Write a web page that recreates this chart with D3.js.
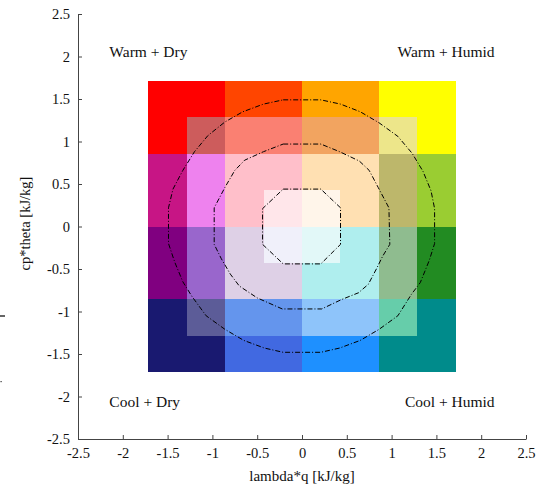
<!DOCTYPE html>
<html>
<head>
<meta charset="utf-8">
<script src="https://cdn.jsdelivr.net/npm/d3@7"></script>
<style>
  html, body { margin: 0; padding: 0; background: #fff; }
  svg { display: block; }
  text { font-family: "Liberation Serif", "Times New Roman", serif; fill: #111; }
  .axis path, .axis line { stroke: #444; stroke-width: 1; }
  .axis text { font-size: 14.5px; }
  .contour { fill: none; stroke: #000; stroke-width: 1; stroke-dasharray: 5,2,1,2; }
</style>
</head>
<body>
<div id="chart"></div>
<script>
// --- data ---
const tickValues = [-2.5, -2, -1.5, -1, -0.5, 0, 0.5, 1, 1.5, 2, 2.5];
const tickLabels = ['-2.5', '-2', '-1.5', '-1', '-0.5', '0', '0.5', '1', '1.5', '2', '2.5'];

// cell edges (kJ/kg), same on both axes
const binEdges = [-1.714, -1.286, -0.857, -0.429, 0, 0.429, 0.857, 1.286, 1.714];

// cell colours, rows from top (warm) to bottom (cool), columns dry -> humid
const cellColors = [
  ['#ff0000', '#ff0000', '#ff4500', '#ff4500', '#ffa500', '#ffa500', '#ffff00', '#ffff00'],
  ['#ff0000', '#cd5c5c', '#fa8072', '#fa8072', '#f2a460', '#f2a460', '#ede68a', '#ffff00'],
  ['#c71585', '#ee82ee', '#ffbfca', '#ffbfca', '#ffe0b2', '#ffe0b2', '#bdb76b', '#9acd32'],
  ['#c71585', '#ee82ee', '#ffbfca', '#ffe6ea', '#fff5ea', '#ffe0b2', '#bdb76b', '#9acd32'],
  ['#800080', '#9966cc', '#ded0e6', '#f0f0fa', '#e2f8f8', '#afeeee', '#8fbc8f', '#228b22'],
  ['#800080', '#9966cc', '#ded0e6', '#ded0e6', '#afeeee', '#afeeee', '#8fbc8f', '#228b22'],
  ['#191970', '#5c5c98', '#6495ed', '#6495ed', '#8ec4fa', '#8ec4fa', '#66cdaa', '#008b8b'],
  ['#191970', '#191970', '#4169e1', '#4169e1', '#1e90ff', '#1e90ff', '#008b8b', '#008b8b']
];

// dash-dot contour polygons [lambda*q, cp*theta]
const contourInner = [
  [-0.21, 0.44], [0.21, 0.44], [0.43, 0.22], [0.43, -0.21],
  [0.21, -0.44], [-0.21, -0.44], [-0.44, -0.21], [-0.44, 0.21]
];
const contourMiddle = [
  [-0.21, 0.97], [0.21, 0.97], [0.42, 0.88], [0.64, 0.77], [0.75, 0.66],
  [0.85, 0.46], [0.97, 0.22], [0.98, -0.21], [0.9, -0.35], [0.83, -0.5],
  [0.74, -0.68], [0.63, -0.78], [0.44, -0.86], [0.22, -0.97], [-0.22, -0.97],
  [-0.5, -0.84], [-0.7, -0.7], [-0.8, -0.56], [-0.9, -0.38], [-0.98, -0.21],
  [-0.98, 0.22], [-0.86, 0.46], [-0.75, 0.66], [-0.64, 0.78], [-0.43, 0.88]
];
const contourOuter = [
  [-0.21, 1.49], [0.21, 1.49], [0.43, 1.44], [0.65, 1.35], [0.86, 1.22],
  [1.07, 1.06], [1.23, 0.86], [1.35, 0.65], [1.44, 0.42], [1.48, 0.21],
  [1.48, -0.2], [1.42, -0.4], [1.32, -0.66], [1.22, -0.8], [1.07, -1.05],
  [0.86, -1.21], [0.65, -1.34], [0.42, -1.43], [0.21, -1.48], [-0.21, -1.48],
  [-0.42, -1.43], [-0.65, -1.34], [-0.86, -1.21], [-1.07, -1.05], [-1.23, -0.82],
  [-1.33, -0.65], [-1.42, -0.42], [-1.49, -0.2], [-1.49, 0.22], [-1.44, 0.44],
  [-1.33, 0.66], [-1.2, 0.88], [-1.05, 1.07], [-0.86, 1.23], [-0.66, 1.35], [-0.43, 1.44]
];
const contours = [contourInner, contourMiddle, contourOuter];

const cornerLabels = ['Warm + Dry', 'Warm + Humid', 'Cool + Dry', 'Cool + Humid'];

// --- plot sizing ---
const width = 541, height = 488;
const margin = { top: 14, right: 15, bottom: 49, left: 78 };

const svg = d3.select('#chart').append('svg')
  .attr('width', width)
  .attr('height', height);

const x = d3.scaleLinear().domain([-2.5, 2.5]).range([margin.left, width - margin.right]);
const y = d3.scaleLinear().domain([-2.5, 2.5]).range([height - margin.bottom, margin.top]);

// cells
const cells = [];
cellColors.forEach((row, r) => {
  row.forEach((c, k) => {
    cells.push({ x0: binEdges[k], x1: binEdges[k + 1], y1: binEdges[binEdges.length - 1 - r], y0: binEdges[binEdges.length - 2 - r], color: c });
  });
});

svg.append('g').attr('class', 'cells')
  .selectAll('rect')
  .data(cells)
  .enter().append('rect')
  .attr('x', d => x(d.x0))
  .attr('y', d => y(d.y1))
  .attr('width', d => x(d.x1) - x(d.x0))
  .attr('height', d => y(d.y0) - y(d.y1))
  .attr('shape-rendering', 'crispEdges')
  .style('fill', d => d.color);

// contours
const line = d3.line().x(d => x(d[0])).y(d => y(d[1])).curve(d3.curveLinearClosed);
svg.append('g')
  .selectAll('path')
  .data(contours)
  .enter().append('path')
  .attr('class', 'contour')
  .attr('d', line);

// axes
const xAxis = d3.axisBottom(x)
  .tickValues(tickValues)
  .tickFormat((d, i) => tickLabels[i])
  .tickSize(-4).tickSizeOuter(0).tickPadding(9);
const yAxis = d3.axisLeft(y)
  .tickValues(tickValues)
  .tickFormat((d, i) => tickLabels[i])
  .tickSize(-4).tickSizeOuter(0).tickPadding(8);

svg.append('g').attr('class', 'axis')
  .attr('transform', `translate(0, ${height - margin.bottom})`)
  .call(xAxis);
svg.append('g').attr('class', 'axis')
  .attr('transform', `translate(${margin.left}, 0)`)
  .call(yAxis);
svg.selectAll('.axis text').style('fill', '#111');

// axis titles
svg.append('text')
  .attr('x', x(0))
  .attr('y', 481)
  .attr('text-anchor', 'middle')
  .style('font-size', '15px')
  .text('lambda*q [kJ/kg]');

svg.append('text')
  .attr('transform', `translate(29.5, ${y(0) - 3}) rotate(-90)`)
  .attr('text-anchor', 'middle')
  .style('font-size', '14.5px')
  .text('cp*theta [kJ/kg]');

// quadrant labels
const corners = [
  { x: -2.15, y: 2.0, anchor: 'start' },
  { x: 2.15, y: 2.0, anchor: 'end' },
  { x: -2.15, y: -2.12, anchor: 'start' },
  { x: 2.15, y: -2.12, anchor: 'end' }
];
svg.append('g')
  .selectAll('text')
  .data(cornerLabels)
  .enter().append('text')
  .attr('x', (d, i) => x(corners[i].x))
  .attr('y', (d, i) => y(corners[i].y))
  .attr('text-anchor', (d, i) => corners[i].anchor)
  .style('font-size', '15.5px')
  .text(d => d);

// stray marks at the left edge of the original
svg.append('line')
  .attr('x1', 0).attr('x2', 5).attr('y1', 316).attr('y2', 316)
  .style('stroke', '#111').style('stroke-width', 1.3);
svg.append('rect')
  .attr('x', 0.5).attr('y', 381).attr('width', 1.2).attr('height', 1.2)
  .style('fill', '#333');
</script>
</body>
</html>
